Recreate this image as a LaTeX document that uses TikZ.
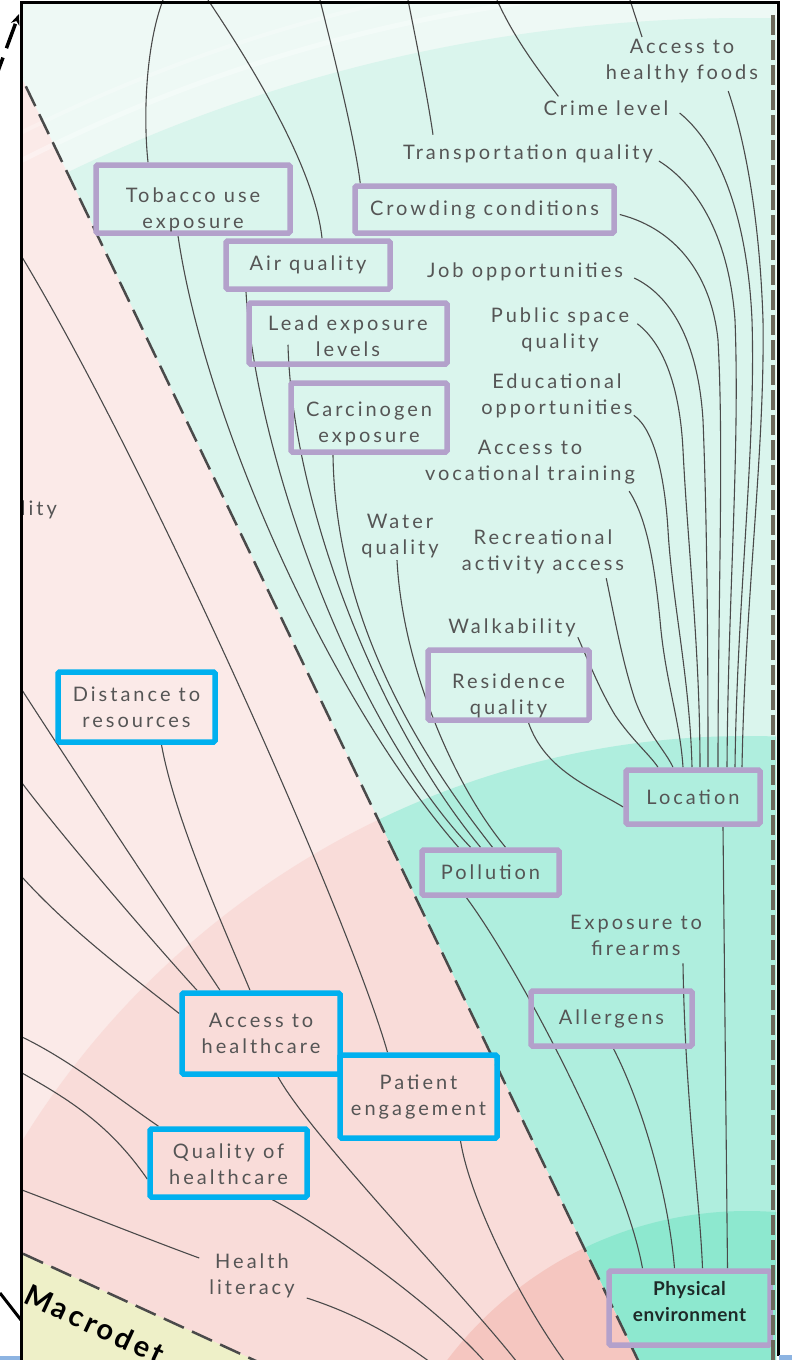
\documentclass[tikz,border=0pt]{standalone}
\usepackage{fontspec}
\setmainfont{Lato}[LetterSpace=15]
\usetikzlibrary{calc,arrows.meta}
\definecolor{gOut}{HTML}{EEF9F5}
\definecolor{gA}{HTML}{DAF5ED}
\definecolor{gB}{HTML}{AFEEDE}
\definecolor{gC}{HTML}{8DE8CF}
\definecolor{pA}{HTML}{FBEAE8}
\definecolor{pB}{HTML}{F9DCD9}
\definecolor{pC}{HTML}{F5C6C0}
\definecolor{yA}{HTML}{EEF0C8}
\definecolor{boxp}{HTML}{B3A1CB}
\definecolor{boxb}{HTML}{00B0EF}
\definecolor{txt}{HTML}{555555}
\definecolor{physt}{HTML}{1E2A28}
\definecolor{linec}{HTML}{4A4A4A}
\definecolor{dashc}{HTML}{4A4A4A}
\definecolor{rdashc}{HTML}{6B675A}
\definecolor{strip}{HTML}{8DB4E2}
\pgfdeclarelayer{bg}
\pgfdeclarelayer{lines}
\pgfsetlayers{bg,lines,main}
\newcommand{\up}[1]{\rule{0pt}{#1}}
\begin{document}
\begin{tikzpicture}[x=1pt,y=-1pt,
 lbl/.style={align=center, text=txt, font=\fontsize{20}{26}\selectfont, inner sep=0pt},
 pbox/.style={draw=boxp, line width=5.5pt, align=center, text=txt, font=\fontsize{20}{26}\selectfont, inner sep=0pt, rounded corners=1.5pt},
 bbox/.style={pbox, draw=boxb},
 con/.style={draw=linec, line width=1.1pt},
 dashline/.style={draw=dashc, line width=2.5pt, dash pattern=on 22pt off 9pt},
]
\useasboundingbox (0,0) rectangle (792,1360);
\coordinate (C) at (747,1587);

% ---------- background sectors ----------
\begin{pgfonlayer}{bg}
\fill[white] (0,0) rectangle (792,1360);
\begin{scope}
\clip (22.5,3.5) rectangle (776,1362);
\begin{scope}
 \clip (C) -- (-119,-215) -- (900,-215) -- (900,1587) -- cycle;
 \fill[gOut] (-10,-10) rectangle (900,1600);
 \fill[gA] (C) circle[radius=1569pt];
 \fill[gB] (C) circle[radius=851pt];
 \fill[gC] (C) circle[radius=376pt];
\end{scope}
\begin{scope}
 \clip (C) -- (-119,-215) -- (-400,-215) -- (-400,1059) -- cycle;
 \fill[pA] (-400,-215) rectangle (900,1600);
 \fill[pB] (C) circle[radius=851pt];
 \fill[pC] (C) circle[radius=376pt];
\end{scope}
\fill[yA] (C) -- (-400,1059) -- (-400,1700) -- (747,1700) -- cycle;
\draw[white, opacity=0.35, line width=5pt] (C) circle[radius=1600pt];
\draw[white, opacity=0.25, line width=4pt] (C) circle[radius=1625pt];
\draw[dashline] (C) -- (-119,-215);
\draw[dashline] (C) -- (-400,1059);
\end{scope}
\end{pgfonlayer}

% ---------- boxes ----------
\node[pbox, minimum width=194pt, minimum height=68pt] (tob) at (193,199) {\up{36pt}Tobacco use\\exposure};
\node[pbox, minimum width=259pt, minimum height=47pt] (crowd) at (484.5,209.5) {Crowding conditions};
\node[pbox, minimum width=164pt, minimum height=48pt] (air) at (308,265) {Air quality};
\node[pbox, minimum width=198pt, minimum height=61pt] (lead) at (348,333.5) {\up{20pt}Lead exposure\\levels};
\node[pbox, minimum width=156pt, minimum height=69pt] (carc) at (369,417.5) {\up{28pt}Carcinogen\\exposure};
\node[pbox, minimum width=161pt, minimum height=70pt] (res) at (508.5,685) {\up{36pt}Residence\\quality};
\node[pbox, minimum width=134pt, minimum height=54pt] (loc) at (693,797) {Location};
\node[pbox, minimum width=137pt, minimum height=45pt] (pol) at (490.5,872.5) {Pollution};
\node[pbox, minimum width=161pt, minimum height=55pt] (all) at (611.5,1018.5) {Allergens};
\node[pbox, minimum width=161pt, minimum height=74pt, text=physt, font=\fontsize{19}{26}\selectfont\bfseries\addfontfeatures{LetterSpace=3}] (phys) at (689.5,1308) {Physical\\environment\rule[-14pt]{0pt}{1pt}};
\node[bbox, minimum width=157pt, minimum height=70pt] (dist) at (136.5,707) {Distance to\\resources};
\node[bbox, minimum width=158pt, minimum height=81pt] (acc) at (261,1033.5) {Access to\\healthcare};
\node[bbox, minimum width=157pt, minimum height=83pt] (pat) at (418.5,1096.5) {Patient\\engagement};
\node[bbox, minimum width=157pt, minimum height=68pt] (qual) at (228.5,1163) {\up{18pt}Quality of\\healthcare};

% ---------- plain labels ----------
\node[lbl] (foods) at (682,61) {Access to\\healthy foods};
\node[lbl] (crime) at (606,108) {Crime level};
\node[lbl] (transp) at (528,154) {Transportation quality};
\node[lbl] (job) at (525,272) {Job opportunities};
\node[lbl] (pubsp) at (560,330) {Public space\\quality};
\node[lbl] (educ) at (557,396) {Educational\\opportunities};
\node[lbl] (voc) at (530,462) {Access to\\vocational training};
\node[lbl] (water) at (400,536) {Water\\quality};
\node[lbl] (recr) at (543,552) {Recreational\\activity access};
\node[lbl] (walk) at (512,628) {Walkability};
\node[lbl] (fire) at (636,935) {Exposure to\\firearms};
\node[lbl] (hlit) at (252,1276) {Health\\literacy};
\begin{scope}
\clip (22.5,3.5) rectangle (776,1362);
\node[lbl, anchor=east] (lity) at (57,510) {lity};
\node[font=\fontsize{29}{29}\selectfont\bfseries\addfontfeatures{LetterSpace=12}, text=black, rotate=-25, anchor=base west, inner sep=0pt] (macro) at (22,1302) {Macrodet};
\end{scope}

% ---------- free ends ----------
\coordinate (t1) at (163,0);
\coordinate (t2) at (208,0);
\coordinate (t3) at (320,0);
\coordinate (t4) at (408,0);
\coordinate (t5) at (497,0);
\coordinate (t6) at (630,0);
\coordinate (k1) at (22,257);
\coordinate (k2) at (22,690);
\coordinate (k3) at (22,783);
\coordinate (k4) at (22,877);
\coordinate (k5) at (22,1037);
\coordinate (k6) at (22,1073);
\coordinate (k7) at (22,1190);
\coordinate (b1) at (517,1362);
\coordinate (b2) at (485,1362);
\coordinate (b3) at (430,1362);
\coordinate (b4) at (565,1362);

% ---------- connectors ----------
\begin{pgfonlayer}{lines}
% top, outward
\draw[con] (t1) .. controls (146,45) and (143,115) .. ([xshift=-45pt]tob.north);
\draw[con] (t2) .. controls (255,70) and (315,170) .. ([xshift=14pt]air.north);
\draw[con] (t3) .. controls (335,60) and (355,140) .. ([xshift=8pt]crowd.north west);
\draw[con] (t4) .. controls (418,50) and (428,100) .. ([xshift=-95pt,yshift=10pt]transp.north);
\draw[con] (t5) .. controls (515,40) and (540,72) .. ([xshift=15pt,yshift=4pt]crime.north west);
\draw[con] (t6) -- ([xshift=-40pt,yshift=2pt]foods.north);
% fan into Location
\draw[con] ([xshift=-30pt,yshift=-8pt]foods.south east) .. controls (748,150) and (760,230) .. (763,320) .. controls (765,450) and (745,600) .. ([xshift=49pt]loc.north);
\draw[con] ([xshift=11pt,yshift=-5pt]crime.east) .. controls (725,150) and (748,230) .. (752,320) .. controls (756,450) and (737,600) .. ([xshift=42pt]loc.north);
\draw[con] ([xshift=6pt,yshift=-7pt]transp.east) .. controls (705,190) and (730,250) .. (735,320) .. controls (740,450) and (728,600) .. ([xshift=34pt]loc.north);
\draw[con] ([xshift=3pt,yshift=-5pt]crowd.east) .. controls (680,230) and (712,280) .. (718,340) .. controls (724,450) and (718,600) .. ([xshift=25pt]loc.north);
\draw[con] ([xshift=11pt,yshift=-6pt]job.east) .. controls (670,295) and (698,340) .. (703,420) .. controls (707,520) and (708,640) .. ([xshift=15pt]loc.north);
\draw[con] ([xshift=8pt,yshift=-16pt]pubsp.north east) .. controls (665,345) and (680,390) .. (683,450) .. controls (688,550) and (700,650) .. ([xshift=7pt]loc.north);
\draw[con] ([xshift=1pt,yshift=3pt]educ.south east) .. controls (655,430) and (665,480) .. (668,530) .. controls (672,600) and (690,680) .. ([xshift=-1pt]loc.north);
\draw[con] ([xshift=-6pt,yshift=-7pt]voc.south east) .. controls (648,520) and (655,570) .. (660,620) .. controls (665,680) and (680,720) .. ([xshift=-10pt]loc.north);
\draw[con] ([xshift=-18pt,yshift=-4pt]recr.south east) .. controls (615,620) and (622,660) .. (635,700) .. controls (648,735) and (665,750) .. ([xshift=-20pt]loc.north);
\draw[con] ([xshift=2pt]walk.south east) .. controls (590,665) and (600,690) .. (615,715) .. controls (632,740) and (650,755) .. ([xshift=-35pt]loc.north);
\draw[con] ([xshift=20pt]res.south) .. controls (545,770) and (590,787) .. ([yshift=-10pt]loc.west);
\draw[con] ([xshift=30pt]loc.south) -- ([xshift=38pt]phys.north);
% into Pollution
\draw[con] ([xshift=-15pt]tob.south) .. controls (205,420) and (330,700) .. ([xshift=-32pt]pol.north);
\draw[con] ([xshift=-62pt]air.south) .. controls (255,450) and (350,720) .. ([xshift=-20pt]pol.north);
\draw[con] ([xshift=-60pt,yshift=22pt]lead.south) .. controls (292,500) and (375,720) .. ([xshift=-10pt]pol.north);
\draw[con] ([xshift=-36pt]carc.south) .. controls (335,600) and (400,730) .. ([xshift=2pt]pol.north);
\draw[con] ([xshift=-3pt,yshift=-2pt]water.south) .. controls (402,660) and (450,780) .. ([xshift=15pt]pol.north);
% into Physical environment
\draw[con] ([xshift=-24pt]pol.south) .. controls (520,970) and (625,1170) .. ([xshift=-47pt]phys.north);
\draw[con] ([xshift=2pt]all.south) .. controls (640,1100) and (668,1190) .. ([xshift=-15pt]phys.north);
\draw[con] ([xshift=47pt,yshift=-8pt]fire.south) .. controls (685,1100) and (700,1200) .. ([xshift=13pt]phys.north);
% pink sector
\draw[con] (k1) .. controls (150,470) and (350,920) .. ([xshift=-31pt]pat.north);
\draw[con] (k2) .. controls (80,780) and (180,930) .. ([xshift=-41pt]acc.north);
\draw[con] (k3) .. controls (65,840) and (160,950) .. ([xshift=-64pt]acc.north);
\draw[con] (k4) .. controls (70,930) and (130,975) .. ([yshift=20pt]acc.west);
\draw[con] ([xshift=25pt]dist.south) .. controls (175,820) and (225,930) .. ([xshift=-11pt]acc.north);
\draw[con] (k5) .. controls (70,1060) and (120,1100) .. ([xshift=-70pt]qual.north);
\draw[con] (k6) .. controls (70,1100) and (110,1125) .. ([yshift=-16pt]qual.west);
\draw[con] (k7) .. controls (80,1212) and (150,1240) .. ([xshift=-10pt,yshift=18pt]hlit.west);
\draw[con] ([xshift=17pt]acc.south) .. controls (310,1135) and (460,1290) .. (b1);
\draw[con] ([xshift=44pt]qual.south) .. controls (330,1230) and (440,1310) .. (b2);
\draw[con] ([xshift=12pt,yshift=-22pt]hlit.east) .. controls (360,1315) and (400,1340) .. (b3);
\draw[con] ([xshift=42pt]pat.south) .. controls (470,1200) and (520,1300) .. (b4);
\end{pgfonlayer}

% ---------- frame and outside marks ----------
\draw[rdashc, line width=4pt, dash pattern=on 20pt off 5pt] (772.5,15) -- (772.5,1360);
\draw[black, line width=3pt] (21,1360) -- (21,2) -- (778,2) -- (778,1356);
\draw[black, line width=3.5pt, dash pattern=on 26pt off 10pt, -{Stealth[length=11pt,width=9pt]}] (-6,82) -- (19,14);
\draw[black, line width=3pt] (0,1293) -- (21,1320);
\fill[strip] (0,1356) rectangle (20,1360);
\fill[strip] (779,1355) rectangle (792,1360);
\end{tikzpicture}
\end{document}
